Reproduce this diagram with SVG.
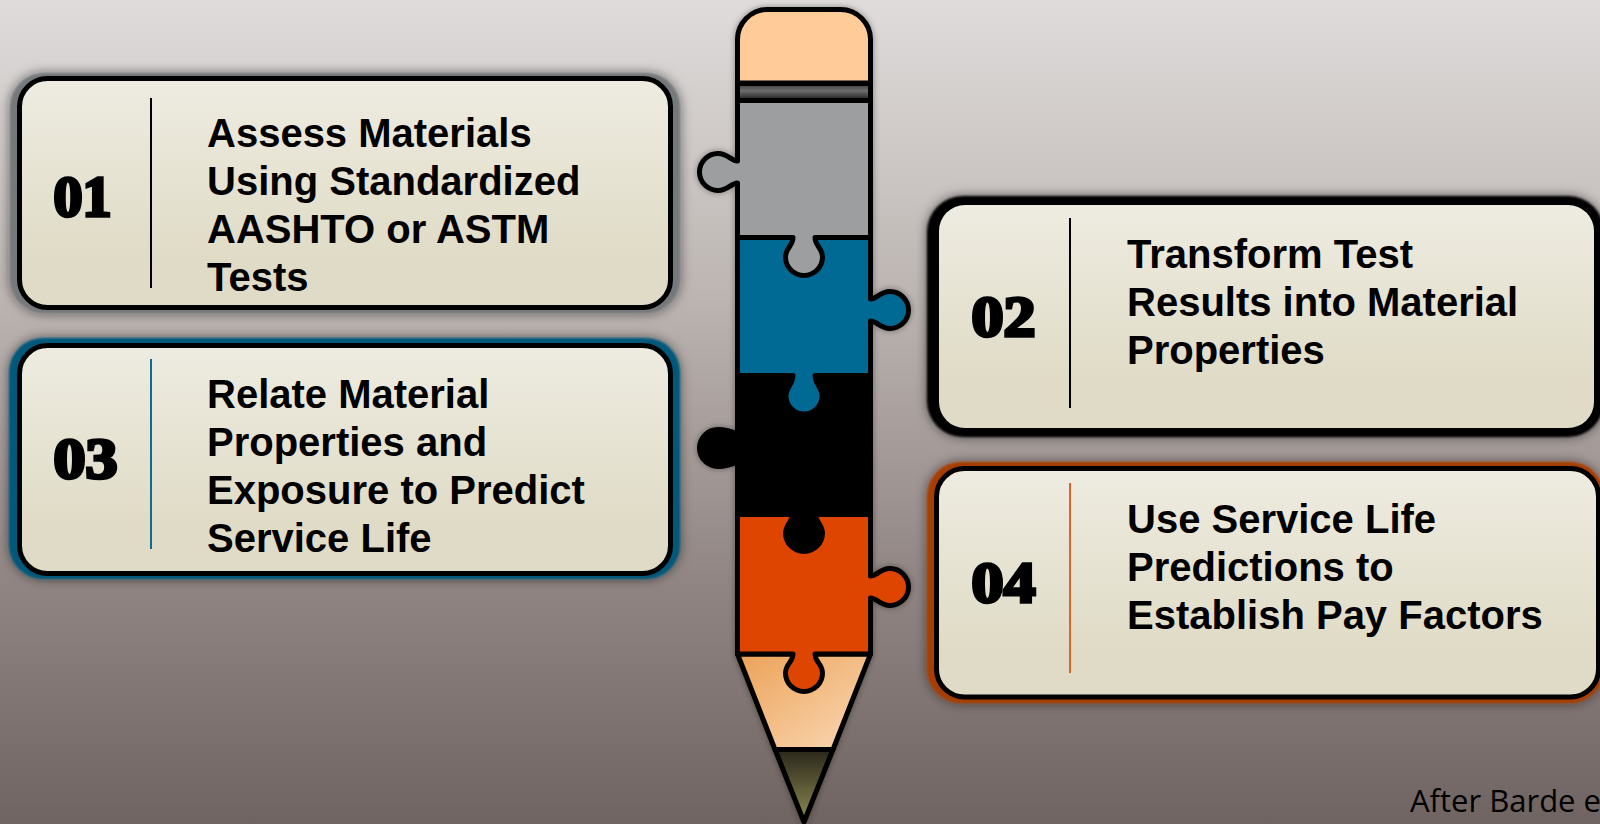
<svg xmlns="http://www.w3.org/2000/svg" width="1600" height="824" viewBox="0 0 1600 824">
<style>
.t{font-family:"Liberation Sans",Arial,sans-serif;font-weight:700;font-size:40px;fill:#000}
.n{font-family:"Liberation Serif","Times New Roman",serif;font-weight:700;font-size:56px;fill:#000;stroke:#000;stroke-width:3.4px}
.c{fill:url(#cardFill);stroke:#000;stroke-width:5}
.p{stroke:#000;stroke-width:5;stroke-linejoin:round}
</style>
<defs>
<linearGradient id="bg" x1="0" y1="0" x2="0" y2="1"><stop offset="0" stop-color="#dfdcdb"/><stop offset=".35" stop-color="#bdb6b3"/><stop offset=".7" stop-color="#918683"/><stop offset="1" stop-color="#6f6462"/></linearGradient>
<linearGradient id="cardFill" x1="0" y1="0" x2="0" y2="1"><stop offset="0" stop-color="#eeece1"/><stop offset=".8" stop-color="#dfdbc6"/><stop offset="1" stop-color="#dfdbc6"/></linearGradient>
<linearGradient id="wood" x1="0" y1="0" x2="1" y2="1"><stop offset="0" stop-color="#eca258"/><stop offset="1" stop-color="#fad9b6"/></linearGradient>
<linearGradient id="lead" x1="0" y1="0" x2="0" y2="1"><stop offset="0" stop-color="#2a261b"/><stop offset="1" stop-color="#8e8c52"/></linearGradient>
<linearGradient id="band" x1="0" y1="0" x2="0" y2="1"><stop offset="0" stop-color="#4a4a4a"/><stop offset=".4" stop-color="#6e6e6e"/><stop offset="1" stop-color="#2e2e2e"/></linearGradient>
<filter id="sh" x="-10%" y="-15%" width="120%" height="130%"><feGaussianBlur in="SourceAlpha" stdDeviation="6" result="b"/><feFlood flood-color="#000" flood-opacity=".55"/><feComposite in2="b" operator="in" result="s"/><feGaussianBlur in="SourceGraphic" stdDeviation="1" result="g"/><feMerge><feMergeNode in="s"/><feMergeNode in="g"/></feMerge></filter>
<filter id="sh2" x="-20%" y="-5%" width="140%" height="110%"><feDropShadow dx="0" dy="0" stdDeviation="3" flood-color="#000" flood-opacity=".4"/></filter>
</defs>
<rect width="1600" height="824" fill="url(#bg)"/>

<g id="card-01">
<rect x="10" y="73" width="670" height="240" rx="34" fill="#76797c" filter="url(#sh)"/>
<rect class="c" x="19.5" y="78.500" width="651" height="229" rx="28"/>
<rect x="150" y="98" width="2" height="190" fill="#000"/>
<text class="n" x="53.500" y="215.500" textLength="58" lengthAdjust="spacingAndGlyphs">01</text>
<text class="t"><tspan x="207" y="147">Assess Materials</tspan><tspan x="207" y="195">Using Standardized</tspan><tspan x="207" y="243">AASHTO or ASTM</tspan><tspan x="207" y="291">Tests</tspan></text>
</g>
<g id="card-03">
<rect x="9" y="338" width="671" height="241" rx="34" fill="#00587a" filter="url(#sh)"/>
<rect class="c" x="19.5" y="345.500" width="651" height="228" rx="28"/>
<rect x="150" y="359" width="2" height="190" fill="#0a6d96"/>
<text class="n" x="53.500" y="477.500" textLength="64" lengthAdjust="spacingAndGlyphs">03</text>
<text class="t"><tspan x="207" y="408">Relate Material</tspan><tspan x="207" y="456">Properties and</tspan><tspan x="207" y="504">Exposure to Predict</tspan><tspan x="207" y="552">Service Life</tspan></text>
</g>
<g id="card-02">
<rect x="927" y="196" width="677" height="241" rx="36" fill="#000" filter="url(#sh)"/>
<rect x="939" y="205" width="655" height="223" rx="26" fill="url(#cardFill)"/>
<rect x="1069" y="218" width="2" height="190" fill="#000"/>
<text class="n" x="971.500" y="335.500" textLength="64" lengthAdjust="spacingAndGlyphs">02</text>
<text class="t"><tspan x="1127" y="268">Transform Test</tspan><tspan x="1127" y="316">Results into Material</tspan><tspan x="1127" y="364">Properties</tspan></text>
</g>
<g id="card-04">
<rect x="927" y="462" width="677" height="241" rx="34" fill="#a83c00" filter="url(#sh)"/>
<rect class="c" x="936.500" y="468.500" width="662" height="228.500" rx="28"/>
<rect x="1069" y="483" width="2" height="190" fill="#e5612b"/>
<text class="n" x="971.500" y="601.500" textLength="64" lengthAdjust="spacingAndGlyphs">04</text>
<text class="t"><tspan x="1127" y="533">Use Service Life</tspan><tspan x="1127" y="581">Predictions to</tspan><tspan x="1127" y="629">Establish Pay Factors</tspan></text>
</g>

<g id="pencil" filter="url(#sh2)">
<g id="lead-tip"><path class="p" fill="url(#lead)" d="M775,749.500H833L804,822Z"/></g>
<g id="wood-cone"><path class="p" fill="url(#wood)" d="M737.500,654H870.500L833,749.500H775Z"/></g>
<g id="piece-04"><path class="p" fill="#de4500" d="M737.500,514.500H870.500V576C877,576 880,568.500 890,568.500A18.500,18.500 0 1 1 890,605.500C880,605.500 877,598 870.500,598V654H815C815,662 822.500,664 822.500,673A18.500,18.500 0 1 1 785.500,673C785.500,664 793,662 793,654H737.500Z"/></g>
<g id="piece-03"><path class="p" fill="#000" d="M737.500,375H870.500V514.500H815C815,520 822.500,525 822.500,533A18.500,18.500 0 1 1 785.500,533C785.500,525 793,520 793,514.500H737.500V462C731,465 725,466.500 718,466.500A18.500,18.500 0 1 1 718,429.500C725,429.500 731,431 737.500,434Z"/></g>
<g id="piece-02"><path class="p" fill="#006a94" d="M737.500,237.500H870.500V299C877,299 880,291.500 890,291.500A18.500,18.500 0 1 1 890,328.500C880,328.500 877,321 870.500,321V375.500H815C815,384 822,387 822,396A18,18 0 1 1 786,396C786,387 793,384 793,375.500H737.500Z"/></g>
<g id="piece-01"><path class="p" fill="#9d9ea0" d="M737.500,100.500H870.500V237.500H815C815,246 822.500,248 822.500,257A18.500,18.500 0 1 1 785.500,257C785.500,248 793,246 793,237.500H737.500V183C731,183 728,190.500 718,190.500A18.500,18.500 0 1 1 718,153.500C728,153.500 731,161 737.500,161Z"/></g>
<g id="ferrule"><rect x="735" y="80" width="138" height="23" fill="#000"/><rect x="740" y="86" width="128" height="12" fill="url(#band)"/></g>
<g id="eraser"><path class="p" fill="#fc9" d="M737.500,83V40A30,30 0 0 1 767.500,9.500H840.500A30,30 0 0 1 870.500,40V83Z"/></g>
</g>
<text x="1410" y="812" font-family="'Open Sans','Noto Sans',sans-serif" font-size="31" fill="#000">After Barde e</text>
</svg>
